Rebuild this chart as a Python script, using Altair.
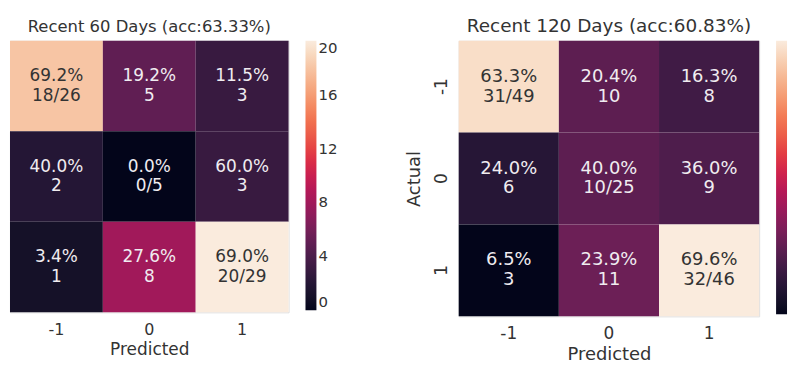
import altair as alt
import pandas as pd

labels = ["-1", "0", "1"]
counts_60 = [[18, 5, 3], [2, 0, 3], [1, 8, 20]]
counts_120 = [[31, 10, 8], [6, 10, 9], [3, 11, 32]]
title_60 = "Recent 60 Days (acc:63.33%)"
title_120 = "Recent 120 Days (acc:60.83%)"
legend_ticks_60 = [0, 4, 8, 12, 16, 20]

rocket = ["#03051a", "#35193e", "#701f57", "#ad1759",
          "#e13342", "#f37651", "#f6b48f", "#faebdd"]
FONT = "DejaVu Sans"


def make_df(counts):
    rows = []
    for i, a in enumerate(labels):
        tot = sum(counts[i])
        for j, p in enumerate(labels):
            c = counts[i][j]
            pct = f"{100.0 * c / tot:.1f}%"
            second = f"{c}/{tot}" if i == j else f"{c}"
            rows.append({"actual": a, "pred": p, "count": c,
                         "l1": pct, "l2": second})
    return pd.DataFrame(rows)


def panel(counts, title, w, h, tfs, cfs, lfs, thr, show_y, show_labels, title_off):
    df = make_df(counts)
    flat = [v for r in counts for v in r]
    vmin, vmax = min(flat), max(flat)
    dom = [vmin + k * (vmax - vmin) / 7 for k in range(8)]
    xs = alt.X("pred:O", sort=labels,
               scale=alt.Scale(paddingInner=0, paddingOuter=0),
               axis=alt.Axis(title="Predicted", labelAngle=0, ticks=False, domain=False,
                             labelFontSize=lfs, titleFontSize=lfs + 1, titleFontWeight="normal",
                             labelPadding=9, titlePadding=4, labelColor="#333",
                             titleColor="#333", labelFont=FONT, titleFont=FONT))
    if show_y:
        yaxis = alt.Axis(title="Actual", labelAngle=-90, ticks=False, domain=False,
                         labelFontSize=lfs, titleFontSize=lfs + 1, titleFontWeight="normal",
                         labelPadding=8, titlePadding=9, labelColor="#333",
                         titleColor="#333", labelFont=FONT, titleFont=FONT,
                         labelAlign="center", labelBaseline="bottom")
    else:
        yaxis = None
    ys = alt.Y("actual:O", sort=labels,
               scale=alt.Scale(paddingInner=0, paddingOuter=0), axis=yaxis)
    leg_kw = dict(type="gradient", title=None, gradientLength=h - 2, gradientThickness=11,
                  gradientStrokeWidth=0, offset=17, labelColor="#333", labelFont=FONT,
                  direction="vertical")
    if show_labels:
        leg_kw["values"] = legend_ticks_60
        leg_kw["labelFontSize"] = 15
        leg_kw["labelPadding"] = 8
    else:
        leg_kw["labelOpacity"] = 0
        leg_kw["labelFontSize"] = 1
        leg_kw["labelPadding"] = 0
    leg = alt.Legend(**leg_kw)
    base = alt.Chart(df)
    rect = base.mark_rect().encode(
        x=xs, y=ys,
        color=alt.Color("count:Q", scale=alt.Scale(domain=dom, range=rocket), legend=leg))
    tcol = alt.condition(alt.datum.count > thr, alt.value("#333333"), alt.value("#f0ecf0"))
    t1 = base.mark_text(dy=-10, fontSize=cfs, font=FONT).encode(
        x=alt.X("pred:O", sort=labels), y=alt.Y("actual:O", sort=labels),
        text="l1:N", color=tcol)
    t2 = base.mark_text(dy=10, fontSize=cfs, font=FONT).encode(
        x=alt.X("pred:O", sort=labels), y=alt.Y("actual:O", sort=labels),
        text="l2:N", color=tcol)
    return alt.layer(rect, t1, t2).properties(
        width=w, height=h,
        title=alt.Title(title, fontSize=tfs, fontWeight="normal", font=FONT,
                        color="#333", offset=title_off)
    ).resolve_scale(color="independent")


left = panel(counts_60, title_60, 280, 273, 16.5, 17, 16, 14, False, True, 5)
right = panel(counts_120, title_120, 302, 277, 18.5, 18, 17, 24, True, False, 5)

chart = alt.hconcat(left, right, spacing=66).resolve_scale(
    color="independent").resolve_legend(
    color="independent").configure_view(stroke=None).configure(
    background="white", padding={"left": 1, "top": 8, "right": 0, "bottom": 0})

chart.save("out.html", embed_options={"renderer": "svg", "actions": False})
